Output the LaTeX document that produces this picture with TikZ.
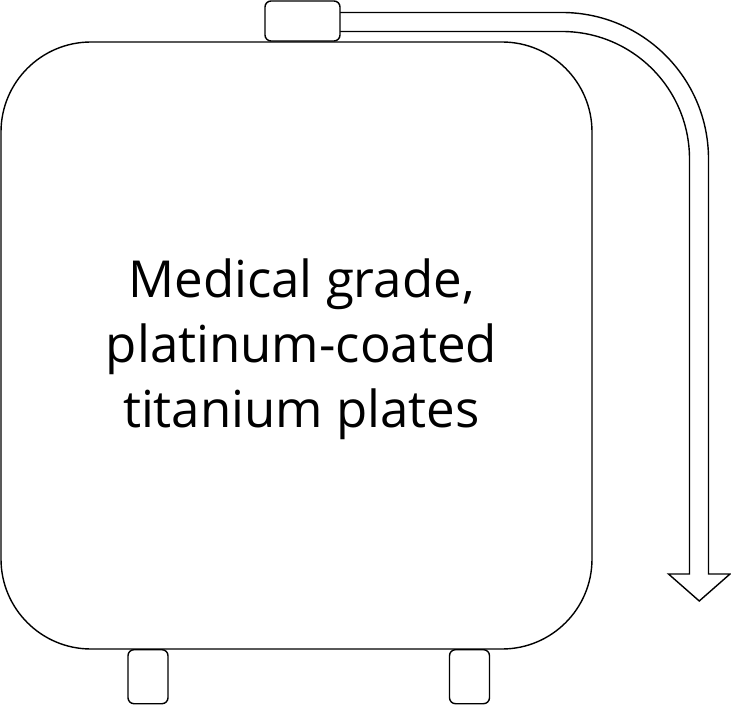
\documentclass[tikz,border=0pt]{standalone}
\usepackage{fontspec}
\setmainfont{Open Sans}
\begin{document}
\begin{tikzpicture}[x=1pt,y=1pt,
  shp/.style={draw=black,line width=1.4pt,fill=white},
  foot/.style={shp,rounded corners=6pt,minimum width=40pt,minimum height=54pt,inner sep=0pt},
]
\useasboundingbox (0,0) rectangle (731,705);
% pipe
\draw[shp,line join=miter] (340,692.5) -- (562,692.5) arc[start angle=90,end angle=0,radius=146.5]
  -- (708.5,131) -- (730,131) -- (699.25,104) -- (668.5,131) -- (689.5,131) -- (689.5,546)
  arc[start angle=0,end angle=90,radius=127.5] -- (340,673.5);
\node[shp,rounded corners=90pt,minimum width=591pt,minimum height=607pt,inner sep=0pt] (tank) at (296.5,359.5) {};
\node[align=center,inner sep=0pt,font=\fontsize{51}{65}\selectfont] (text) at (301.5,355.5)
  {Medical grade,\\platinum-coated\\titanium plates};
\node[shp,rounded corners=6pt,minimum width=75pt,minimum height=40pt,inner sep=0pt] (cap) at (302.5,684) {};
\node[foot,anchor=north] (footl) at (148,56) {};
\node[foot,anchor=north] (footr) at (469.5,56) {};
\end{tikzpicture}
\end{document}
